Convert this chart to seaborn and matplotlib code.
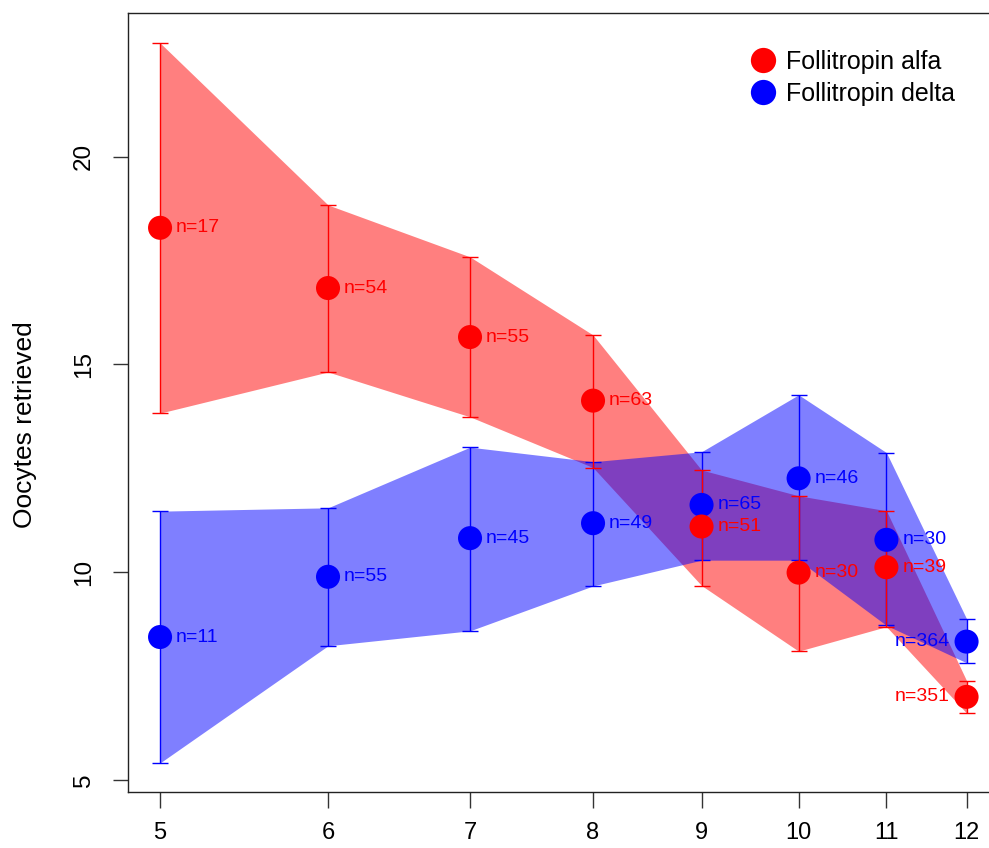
import matplotlib
matplotlib.use("Agg")
import matplotlib.pyplot as plt
from matplotlib.ticker import FixedLocator, FixedFormatter, NullLocator
import numpy as np
import pandas as pd
import seaborn as sns

# -----------------------------
# Data
# -----------------------------
doses = [5, 6, 7, 8, 9, 10, 11, 12]

alfa_mean = [18.29, 16.84, 15.66, 14.13, 11.10, 9.99, 10.12, 7.00]
alfa_upper = [22.74, 18.84, 17.59, 15.71, 12.46, 11.84, 11.48, 7.39]
alfa_lower = [13.83, 14.82, 13.74, 12.52, 9.68, 8.10, 8.69, 6.61]
alfa_n = [17, 54, 55, 63, 51, 30, 39, 351]

delta_mean = [8.44, 9.89, 10.82, 11.18, 11.62, 12.26, 10.78, 8.33]
delta_upper = [11.47, 11.55, 13.01, 12.66, 12.90, 14.27, 12.88, 8.88]
delta_lower = [5.41, 8.23, 8.59, 9.67, 10.29, 10.29, 8.72, 7.82]
delta_n = [11, 55, 45, 49, 65, 46, 30, 364]

labels = ["Follitropin alfa", "Follitropin delta"]
colors = {"Follitropin alfa": "#FF0000", "Follitropin delta": "#0000FF"}

# delta rows first so alfa points end up on top
df = pd.concat([
    pd.DataFrame({"dose": doses, "mean": delta_mean, "lo": delta_lower,
                  "hi": delta_upper, "n": delta_n, "group": labels[1]}),
    pd.DataFrame({"dose": doses, "mean": alfa_mean, "lo": alfa_lower,
                  "hi": alfa_upper, "n": alfa_n, "group": labels[0]}),
], ignore_index=True)

# -----------------------------
# Plot
# -----------------------------
sns.set_style("white")
plt.rcParams["font.family"] = ["Liberation Sans", "DejaVu Sans"]
plt.rcParams["text.color"] = "black"
plt.rcParams["xtick.color"] = "black"
plt.rcParams["ytick.color"] = "black"
plt.rcParams["axes.labelcolor"] = "black"

fig = plt.figure(figsize=(9.89, 8.48), dpi=100)
ax = fig.add_axes([128 / 989, 1 - 792 / 848, (999 - 128) / 989, (792 - 13) / 848])

# confidence bands (alfa below, delta above)
for g in labels:
    sub = df[df.group == g]
    ax.fill_between(sub["dose"], sub["lo"], sub["hi"], color=colors[g],
                    alpha=0.5, linewidth=0, zorder=1)

# error bars
for g in [labels[1], labels[0]]:
    sub = df[df.group == g]
    ax.errorbar(sub["dose"], sub["mean"],
                yerr=[sub["mean"] - sub["lo"], sub["hi"] - sub["mean"]],
                fmt="none", ecolor=colors[g], elinewidth=1, capsize=6,
                capthick=1, zorder=2)

sns.scatterplot(data=df, x="dose", y="mean", hue="group", hue_order=labels,
                palette=colors, s=300, linewidth=0, ax=ax, zorder=3)

# n= labels
for _, r in df.iterrows():
    if r["dose"] == 12:
        off, ha = -12, "right"
    else:
        off, ha = 11.5, "left"
    ax.annotate(f"n={int(r['n'])}", (r["dose"], r["mean"]),
                xytext=(off, 0), textcoords="offset points",
                ha=ha, va="center", color=colors[r["group"]],
                fontsize=14, zorder=4)

ax.set_xscale("log")
ax.set_xlim(4.829, 12.43)
ax.set_ylim(4.71, 23.46)
ax.xaxis.set_major_locator(FixedLocator(doses))
ax.xaxis.set_major_formatter(FixedFormatter([str(d) for d in doses]))
ax.xaxis.set_minor_locator(NullLocator())
ax.set_yticks([5, 10, 15, 20])
ax.tick_params(axis="x", length=11.5, width=1, pad=10, labelsize=17,
               color="#333333", direction="out", bottom=True)
ax.tick_params(axis="y", length=11, width=1, pad=13, labelsize=17.5,
               color="#333333", direction="out", left=True)
for lab in ax.get_yticklabels():
    lab.set_rotation(90)
    lab.set_va("center")

for s in ax.spines.values():
    s.set_color("#222222")
    s.set_linewidth(1)

ax.set_xlabel("")
ax.set_ylabel("Oocytes retrieved", fontsize=19)
ax.yaxis.set_label_coords(-0.104, 0.472)

handles, _ = ax.get_legend_handles_labels()
ax.legend(handles=handles, labels=labels, loc="upper left",
          bbox_to_anchor=(748 / 989, 1 - 50 / 848),
          bbox_transform=fig.transFigure, frameon=False, fontsize=18,
          markerscale=1.05, handlelength=1.2, handletextpad=0.3,
          labelspacing=0.3, borderaxespad=0, borderpad=0)

plt.savefig("out.png", dpi=100)
